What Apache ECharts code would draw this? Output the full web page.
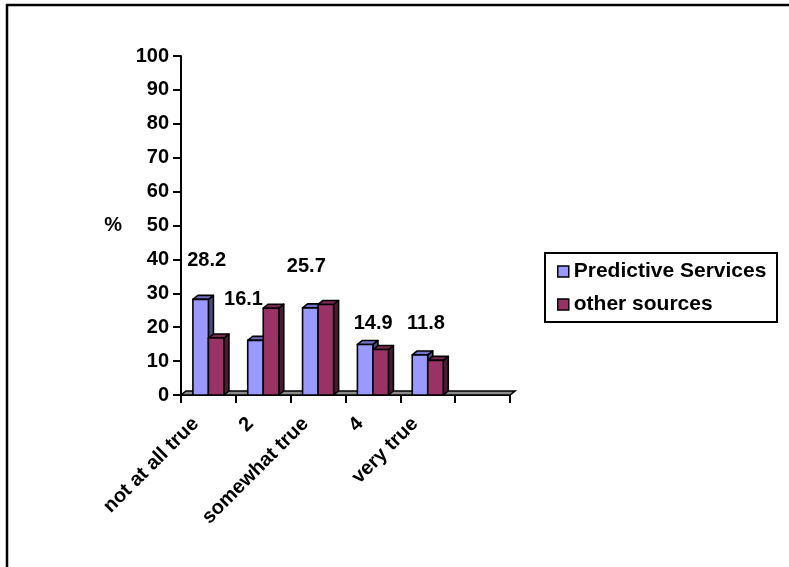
<!DOCTYPE html>
<html>
<head>
<meta charset="utf-8">
<script src="https://cdn.jsdelivr.net/npm/echarts@6/dist/echarts.min.js"></script>
<style>
  html, body { margin: 0; padding: 0; background: #fff; }
  #chart { width: 789px; height: 567px; }
</style>
</head>
<body>
<div id="chart"></div>
<script>
// Response categories (the last slot is an empty trailing category)
const categories = ['not at all true', '2', 'somewhat true', '4', 'very true', ''];

// Percent of respondents per source
const predictiveServices = [28.2, 16.1, 25.7, 14.9, 11.8];
const otherSources = [16.8, 25.6, 26.7, 13.4, 10.2];

// Value axis range
const yMin = 0;
const yMax = 100;
const yStep = 10;

const seriesNames = ['Predictive Services', 'other sources'];

// Per-label pixel nudges for the value labels (dx, dy from the bar's top centre)
const labelNudge = [[6, -39], [-12, -41], [-4, -41], [8, -21], [6, -32]];

const FONT = "'Liberation Sans', Arial, sans-serif";

// Face colours for the pseudo-3D columns: front, top, side
const palettes = [
  { front: '#9999FF', top: '#7373CC', side: '#4D4D80' },
  { front: '#993366', top: '#7A2952', side: '#4D1A33' }
];

const DEPTH_X = 5;
const DEPTH_Y = 4;

function toPairs(values) {
  return values.map((v, i) => [i, v]);
}

function columnRenderer(slot, pal, showLabels) {
  return function (params, api) {
    const i = api.value(0);
    const v = api.value(1);
    const base = api.coord([i, 0]);
    const top = api.coord([i, v]);
    const catW = api.size([1, 0])[0];
    const bw = catW * 0.283;
    const x0 = base[0] - bw + slot * bw;
    const x1 = x0 + bw;
    const yt = top[1];
    const yb = base[1];
    const stroke = { stroke: '#000', lineWidth: 1.6, lineJoin: 'round' };
    const children = [
      {
        type: 'polygon',
        shape: { points: [[x1, yt], [x1 + DEPTH_X, yt - DEPTH_Y], [x1 + DEPTH_X, yb - DEPTH_Y], [x1, yb]] },
        style: Object.assign({ fill: pal.side }, stroke)
      },
      {
        type: 'polygon',
        shape: { points: [[x0, yt], [x0 + DEPTH_X, yt - DEPTH_Y], [x1 + DEPTH_X, yt - DEPTH_Y], [x1, yt]] },
        style: Object.assign({ fill: pal.top }, stroke)
      },
      {
        type: 'rect',
        shape: { x: x0, y: yt, width: bw, height: yb - yt },
        style: Object.assign({ fill: pal.front }, stroke)
      }
    ];
    if (showLabels) {
      const n = labelNudge[i] || [0, -30];
      children.push({
        type: 'text',
        style: {
          text: String(v),
          x: x0 + bw / 2 + n[0],
          y: yt + n[1],
          align: 'center',
          verticalAlign: 'middle',
          fill: '#000',
          font: 'bold 20px ' + FONT
        }
      });
    }
    return { type: 'group', children: children };
  };
}

// Floor plane of the 3D plot area
function floorRenderer(params, api) {
  const catW = api.size([1, 0])[0];
  const left = api.coord([0, 0])[0] - catW / 2;
  const right = api.coord([categories.length - 1, 0])[0] + catW / 2;
  const y = api.coord([0, 0])[1];
  return {
    type: 'polygon',
    shape: { points: [[left, y], [right, y], [right + DEPTH_X, y - DEPTH_Y], [left + DEPTH_X, y - DEPTH_Y]] },
    style: { fill: '#8C8C8C', stroke: '#000', lineWidth: 1.6 }
  };
}

const chart = echarts.init(document.getElementById('chart'), null, { renderer: 'canvas' });

chart.setOption({
  animation: false,
  backgroundColor: '#fff',
  textStyle: { fontFamily: FONT },
  grid: { left: 181, right: 279, top: 56, bottom: 172, containLabel: false },
  legend: {
    orient: 'vertical',
    left: 552,
    top: 256,
    itemWidth: 11,
    itemHeight: 11,
    itemGap: 12,
    icon: 'rect',
    data: [
      { name: seriesNames[0], itemStyle: { color: palettes[0].front, borderColor: '#000', borderWidth: 1.5 } },
      { name: seriesNames[1], itemStyle: { color: palettes[1].front, borderColor: '#000', borderWidth: 1.5 } }
    ],
    textStyle: { fontFamily: FONT, fontWeight: 'bold', fontSize: 21, color: '#000', lineHeight: 21, padding: [0, 0, 0, 0] }
  },
  xAxis: {
    type: 'category',
    data: categories,
    boundaryGap: true,
    axisLine: { show: true, lineStyle: { color: '#000', width: 2 } },
    axisTick: { show: true, alignWithLabel: false, interval: 0, length: 8, lineStyle: { color: '#000', width: 2 } },
    axisLabel: {
      interval: 0, rotate: 45, margin: 13, padding: [0, 18, 0, 0],
      color: '#000', fontFamily: FONT, fontWeight: 'bold', fontSize: 20
    },
    splitLine: { show: false }
  },
  yAxis: {
    type: 'value',
    min: yMin,
    max: yMax,
    interval: yStep,
    name: '%',
    nameLocation: 'middle',
    nameRotate: 0,
    nameGap: 59,
    nameTextStyle: { color: '#000', fontFamily: FONT, fontWeight: 'bold', fontSize: 20 },
    axisLine: { show: true, lineStyle: { color: '#000', width: 2 } },
    axisTick: { show: true, length: 8, lineStyle: { color: '#000', width: 2 } },
    axisLabel: { margin: 12, color: '#000', fontFamily: FONT, fontWeight: 'bold', fontSize: 20 },
    splitLine: { show: false }
  },
  graphic: [
    {
      type: 'rect',
      z: -1,
      shape: { x: 7, y: 5, width: 900, height: 900 },
      style: { fill: 'none', stroke: '#000', lineWidth: 2.5 },
      silent: true
    },
    {
      type: 'rect',
      z: 0,
      shape: { x: 545, y: 253, width: 232, height: 69 },
      style: { fill: 'none', stroke: '#000', lineWidth: 2 },
      silent: true
    }
  ],
  series: [
    {
      name: 'floor',
      type: 'custom',
      z: 1,
      silent: true,
      data: [[0, 0]],
      encode: { x: 0, y: 1 },
      renderItem: floorRenderer
    },
    {
      name: seriesNames[0],
      type: 'custom',
      z: 2,
      itemStyle: { color: palettes[0].front },
      data: toPairs(predictiveServices),
      encode: { x: 0, y: 1 },
      renderItem: columnRenderer(0, palettes[0], true)
    },
    {
      name: seriesNames[1],
      type: 'custom',
      z: 3,
      itemStyle: { color: palettes[1].front },
      data: toPairs(otherSources),
      encode: { x: 0, y: 1 },
      renderItem: columnRenderer(1, palettes[1], false)
    }
  ]
});
</script>
</body>
</html>
